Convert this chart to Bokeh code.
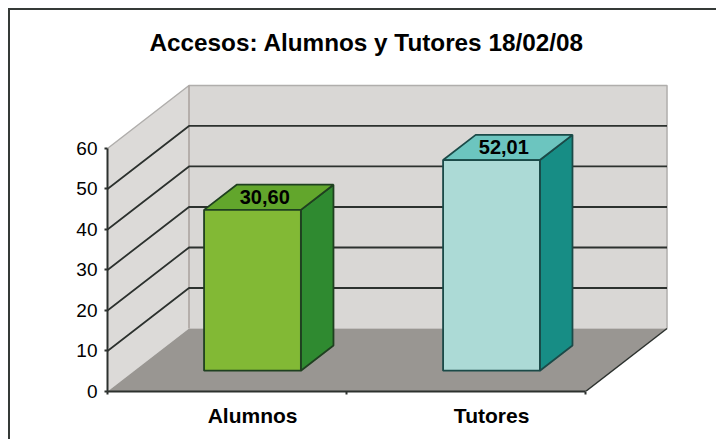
from bokeh.plotting import figure
from bokeh.models import Range1d, FixedTicker
from bokeh.embed import file_html
from bokeh.resources import INLINE
from bokeh.core.properties import value

title_text = "Accesos: Alumnos y Tutores 18/02/08"
categories = ["Alumnos", "Tutores"]
bar_heights = [39.7, 52.01]
bar_labels = ["30,60", "52,01"]
y_ticks = [0, 10, 20, 30, 40, 50, 60]

FRONT_COLORS = ["#82b935", "#acdad6"]
TOP_COLORS = ["#62a62c", "#6cc5bf"]
SIDE_COLORS = ["#2f8a30", "#178d85"]
EDGE_COLORS = ["#1f4020", "#1b4a48"]
DARK = "#2c312e"
FONT = "Liberation Sans"

# oblique projection: depth d (0..1) moves a point right and up
DX, DY = 0.341, 15.56
BAR_W, D0, D1, BAR_C = 0.405, 0.33, 0.73, 0.494


def px(c, d):
    return c + d * DX


def py(v, d):
    return v + d * DY


n = len(categories)
ymax = y_ticks[-1]

p = figure(width=716, height=439, output_backend="svg", toolbar_location=None,
           x_range=Range1d(0, 2.548), y_range=Range1d(0, 82.96),
           min_border_left=107, min_border_right=0, min_border_top=55, min_border_bottom=48,
           background_fill_color=None, border_fill_color=None, outline_line_color=None,
           title=title_text)
p.grid.visible = False
p.title.text_font = FONT
p.title.text_font_style = "bold"
p.title.text_font_size = "24.3px"
p.title.text_color = "#000000"
p.title.align = "left"
p.title.offset = 42
p.title.standoff = 0

# outer chart frame, running off the picture on the right and at the bottom
p.styles = {"background": "linear-gradient(#353a37,#353a37) 8px 8px/708px 2px no-repeat,"
                          "linear-gradient(#353a37,#353a37) 8px 8px/2px 431px no-repeat,"
                          "#ffffff"}

# walls and floor
p.patch([px(0, 0), px(0, 1), px(0, 1), px(0, 0)], [py(ymax, 0), py(ymax, 1), py(0, 1), py(0, 0)],
        fill_color="#dcdad8", line_color=None)
p.patch([px(0, 1), px(n, 1), px(n, 1), px(0, 1)], [py(0, 1), py(0, 1), py(ymax, 1), py(ymax, 1)],
        fill_color="#d9d7d5", line_color=None)
p.patch([px(0, 0), px(0, 1), px(n, 1), px(n, 0)], [py(0, 0), py(0, 1), py(0, 1), py(0, 0)],
        fill_color="#999692", line_color=None)

# wall edges
p.line([px(0, 0), px(0, 1), px(n, 1), px(n, 1)], [py(ymax, 0), py(ymax, 1), py(ymax, 1), py(0, 1)],
       line_color="#b0aeac", line_width=1.5)
p.line([px(0, 1), px(0, 1)], [py(0, 1), py(ymax, 1)], line_color="#a8a09c", line_width=1.5)
p.line([px(n, 0), px(n, 1)], [py(0, 0), py(0, 1)], line_color=DARK, line_width=1.5)

# grid lines on side wall and back wall
inner = [t for t in y_ticks if 0 < t < ymax]
p.multi_line([[px(0, 0), px(0, 1), px(n, 1)] for t in inner],
             [[py(t, 0), py(t, 1), py(t, 1)] for t in inner],
             line_color=DARK, line_width=1.8)

# bars, drawn from the values
for i, h in enumerate(bar_heights):
    l, r = i + BAR_C - BAR_W / 2, i + BAR_C + BAR_W / 2
    p.patch([px(r, D0), px(r, D1), px(r, D1), px(r, D0)], [py(0, D0), py(0, D1), py(h, D1), py(h, D0)],
            fill_color=SIDE_COLORS[i], line_color=EDGE_COLORS[i], line_width=1.8)
    p.patch([px(l, D0), px(l, D1), px(r, D1), px(r, D0)], [py(h, D0), py(h, D1), py(h, D1), py(h, D0)],
            fill_color=TOP_COLORS[i], line_color=EDGE_COLORS[i], line_width=1.8)
    p.patch([px(l, D0), px(r, D0), px(r, D0), px(l, D0)], [py(0, D0), py(0, D0), py(h, D0), py(h, D0)],
            fill_color=FRONT_COLORS[i], line_color=EDGE_COLORS[i], line_width=1.8)

dm = (D0 + D1) / 2
p.text([px(i + BAR_C, dm) for i in range(n)], [py(h, dm) for h in bar_heights],
       text=bar_labels, text_font=value(FONT), text_font_style="bold", text_font_size="20px",
       text_align="center", text_baseline="middle", text_color="#000000", x_offset=-4)

# axes
ya = p.yaxis[0]
ya.ticker = FixedTicker(ticks=y_ticks, minor_ticks=[])
ya.bounds = (0, ymax)
ya.axis_line_color = DARK
ya.axis_line_width = 2
ya.major_tick_line_color = DARK
ya.major_tick_line_width = 2
ya.major_tick_in = 0
ya.major_tick_out = 3
ya.major_label_standoff = 7
ya.major_label_text_font = FONT
ya.major_label_text_font_size = "19px"
ya.major_label_text_color = "#000000"

xa = p.xaxis[0]
lab_pos = [round(px(i + BAR_C, D0), 3) for i in range(n)]
xa.ticker = FixedTicker(ticks=lab_pos, minor_ticks=list(range(n + 1)))
xa.major_label_overrides = dict(zip(lab_pos, categories))
xa.bounds = (0, n)
xa.axis_line_color = DARK
xa.axis_line_width = 2
xa.major_tick_line_color = None
xa.major_tick_in = 0
xa.major_tick_out = 0
xa.minor_tick_line_color = DARK
xa.minor_tick_line_width = 2
xa.minor_tick_in = 0
xa.minor_tick_out = 3
xa.major_label_standoff = 9
xa.major_label_text_font = FONT
xa.major_label_text_font_style = "bold"
xa.major_label_text_font_size = "21px"
xa.major_label_text_color = "#000000"

open("out.html", "w").write(file_html(p, INLINE))
